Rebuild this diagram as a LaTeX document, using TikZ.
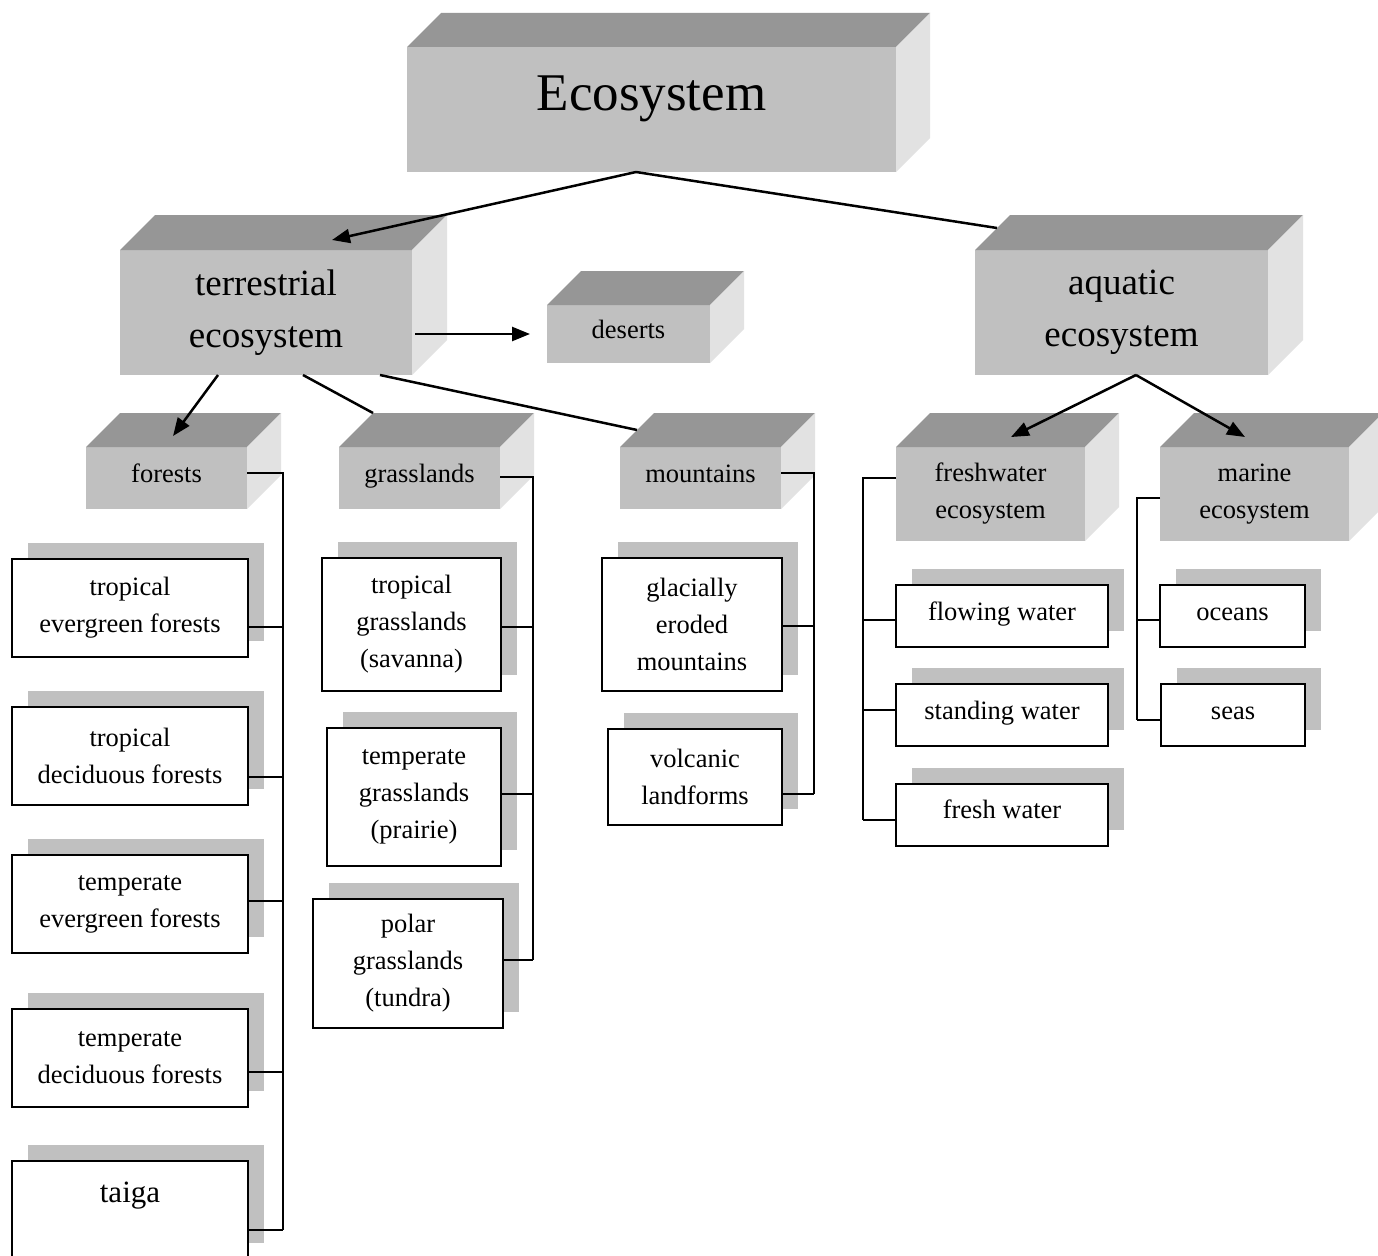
\documentclass[tikz,border=0pt]{standalone}
\usepackage{fontspec}
\setmainfont{Liberation Serif}
\usetikzlibrary{arrows.meta,calc,shadows}
\definecolor{frontc}{HTML}{C0C0C0}
\definecolor{topc}{HTML}{969696}
\definecolor{sidec}{HTML}{E2E2E2}
\definecolor{shadc}{HTML}{C0C0C0}
\newcommand\cubefaces[2]{%
  \fill[topc] (#1.north west) -- ++(#2,-#2) -- ([shift={(#2,-#2)}]#1.north east) -- (#1.north east) -- cycle;
  \fill[sidec] (#1.north east) -- ++(#2,-#2) -- ([shift={(#2,-#2)}]#1.south east) -- (#1.south east) -- cycle;}
\begin{document}
\begin{tikzpicture}[x=1pt,y=-1pt,
  cube/.style={fill=frontc, inner sep=0pt, outer sep=0pt, align=center, font=\fontsize{26.5}{37}\selectfont},
  card/.style={draw, line width=2pt, fill=white, inner sep=0pt, outer sep=0pt, align=center,
     font=\fontsize{26.5}{37}\selectfont,
     general shadow={fill=shadc, draw=none, shadow xshift=16pt, shadow yshift=16pt}},
  one/.style={text height=18pt, text depth=10pt},
  link/.style={line width=2.5pt},
  arr/.style={link, -{Triangle[length=18pt,width=14pt]}},
  tree/.style={line width=2pt}]
\useasboundingbox (0,0) rectangle (1378,1255);
\clip (0,0) rectangle (1378,1255);
\fill[white] (0,0) rectangle (1378,1255);

% 3D boxes
\node[cube, minimum width=489pt, minimum height=125pt, font=\fontsize{53}{60}\selectfont, text height=40pt, text depth=39pt] (eco) at (651.5,109.5) {Ecosystem};
\cubefaces{eco}{34}
\node[cube, minimum width=292pt, minimum height=125pt, font=\fontsize{37}{52}\selectfont] (terr) at (266,312.5) {terrestrial\\ecosystem};
\cubefaces{terr}{35}
\node[cube, minimum width=293pt, minimum height=125pt, font=\fontsize{37}{52}\selectfont] (aqua) at (1121.5,312.5) {aquatic\\ecosystem};
\cubefaces{aqua}{35}
\node[cube, one, minimum width=163pt, minimum height=58pt] (deserts) at (628.5,334) {deserts};
\cubefaces{deserts}{34}
\node[cube, one, minimum width=161pt, minimum height=62pt] (forests) at (166.5,478) {forests};
\cubefaces{forests}{34}
\node[cube, one, minimum width=161pt, minimum height=62pt] (grass) at (419.5,478) {grasslands};
\cubefaces{grass}{34}
\node[cube, one, minimum width=161pt, minimum height=62pt] (mount) at (700.5,478) {mountains};
\cubefaces{mount}{34}
\node[cube, minimum width=189pt, minimum height=94pt] (fresh) at (990.5,494) {freshwater\\ecosystem};
\cubefaces{fresh}{34}
\node[cube, minimum width=189pt, minimum height=94pt] (marine) at (1254.5,494) {marine\\ecosystem};
\cubefaces{marine}{34}

% cards
\node[card, minimum width=236pt, minimum height=98pt] (tef) at (130,608) {tropical\\evergreen forests};
\node[card, minimum width=236pt, minimum height=98pt] (tdf) at (130,756) {tropical\\deciduous forests};
\node[card, minimum width=236pt, minimum height=98pt] (tevf) at (130,904) {temperate\\evergreen forests};
\node[card, minimum width=236pt, minimum height=98pt] (tdcf) at (130,1058) {temperate\\deciduous forests};
\node[card, minimum width=236pt, minimum height=98pt, font=\fontsize{31}{37}\selectfont, text height=20pt, text depth=35pt] (taiga) at (130,1210) {taiga};

\node[card, minimum width=179pt, minimum height=133pt] (sav) at (411.5,624.5) {tropical\\grasslands\\(savanna)};
\node[card, minimum width=174pt, minimum height=138pt] (pra) at (414,797) {temperate\\grasslands\\(prairie)};
\node[card, minimum width=190pt, minimum height=129pt] (tun) at (408,963.5) {polar\\grasslands\\(tundra)};

\node[card, minimum width=180pt, minimum height=133pt] (gla) at (692,624.5) {glacially\\eroded\\mountains};
\node[card, minimum width=174pt, minimum height=96pt] (vol) at (695,777) {volcanic\\landforms};

\node[card, one, minimum width=212pt, minimum height=62pt] (flo) at (1002,616) {flowing water};
\node[card, one, minimum width=212pt, minimum height=62pt] (sta) at (1002,715) {standing water};
\node[card, one, minimum width=212pt, minimum height=62pt] (frw) at (1002,814.5) {fresh water};

\node[card, one, minimum width=145pt, minimum height=62pt] (oce) at (1232.5,616) {oceans};
\node[card, one, minimum width=144pt, minimum height=62pt] (sea) at (1233,715) {seas};

% main connectors
\draw[arr] ([xshift=-15.5pt]eco.south) -- ([shift={(66,-10)}]terr.north);
\draw[link] ([xshift=-15.5pt]eco.south) -- ([shift={(22,-22)}]aqua.north west);
\draw[arr] (terr.east |- deserts.west) ++(3,0) -- ([xshift=-17pt]deserts.west);
\draw[arr] ([xshift=-48pt]terr.south) -- ([shift={(6.5,-11)}]forests.north);
\draw[link] ([xshift=37pt]terr.south) -- ([shift={(34,-34)}]grass.north west);
\draw[link] ([xshift=114pt]terr.south) -- ([shift={(17,-17)}]mount.north west);
\draw[arr] ([xshift=14.5pt]aqua.south) -- ([shift={(20.5,-10)}]fresh.north);
\draw[arr] ([xshift=14.5pt]aqua.south) -- ([shift={(-9.5,-10)}]marine.north);

% forests tree
\draw[tree] (forests.east) ++(0,-5) -- ++(36,0) -- ++(0,757);
\draw[tree] (tef.east) ++(0,19) -- ++(35,0);
\draw[tree] (tdf.east) ++(0,21) -- ++(35,0);
\draw[tree] (tevf.east) ++(0,-3) -- ++(35,0);
\draw[tree] (tdcf.east) ++(0,14) -- ++(35,0);
\draw[tree] (taiga.east) ++(0,20) -- ++(35,0);

% grasslands tree
\draw[tree] (grass.east) ++(0,-1) -- ++(33,0) -- ++(0,483);
\draw[tree] (sav.east) ++(0,2.5) -- ++(32,0);
\draw[tree] (pra.east) ++(0,-3) -- ++(32,0);
\draw[tree] (tun.east) ++(0,-3.5) -- ++(30,0);

% mountains tree
\draw[tree] (mount.east) ++(0,-5) -- ++(33,0) -- ++(0,321);
\draw[tree] (gla.east) ++(0,1.5) -- ++(32,0);
\draw[tree] (vol.east) ++(0,17) -- ++(32,0);

% freshwater tree
\draw[tree] (fresh.west) ++(0,-16) -- ++(-33,0) -- ++(0,342);
\draw[tree] (flo.west) ++(0,4) -- ++(-33,0);
\draw[tree] (sta.west) ++(0,-5) -- ++(-33,0);
\draw[tree] (frw.west) ++(0,5.5) -- ++(-33,0);

% marine tree
\draw[tree] (marine.west) ++(0,4) -- ++(-23,0) -- ++(0,222);
\draw[tree] (oce.west) ++(0,4) -- ++(-23,0);
\draw[tree] (sea.west) ++(0,5) -- ++(-24,0);
\end{tikzpicture}
\end{document}
